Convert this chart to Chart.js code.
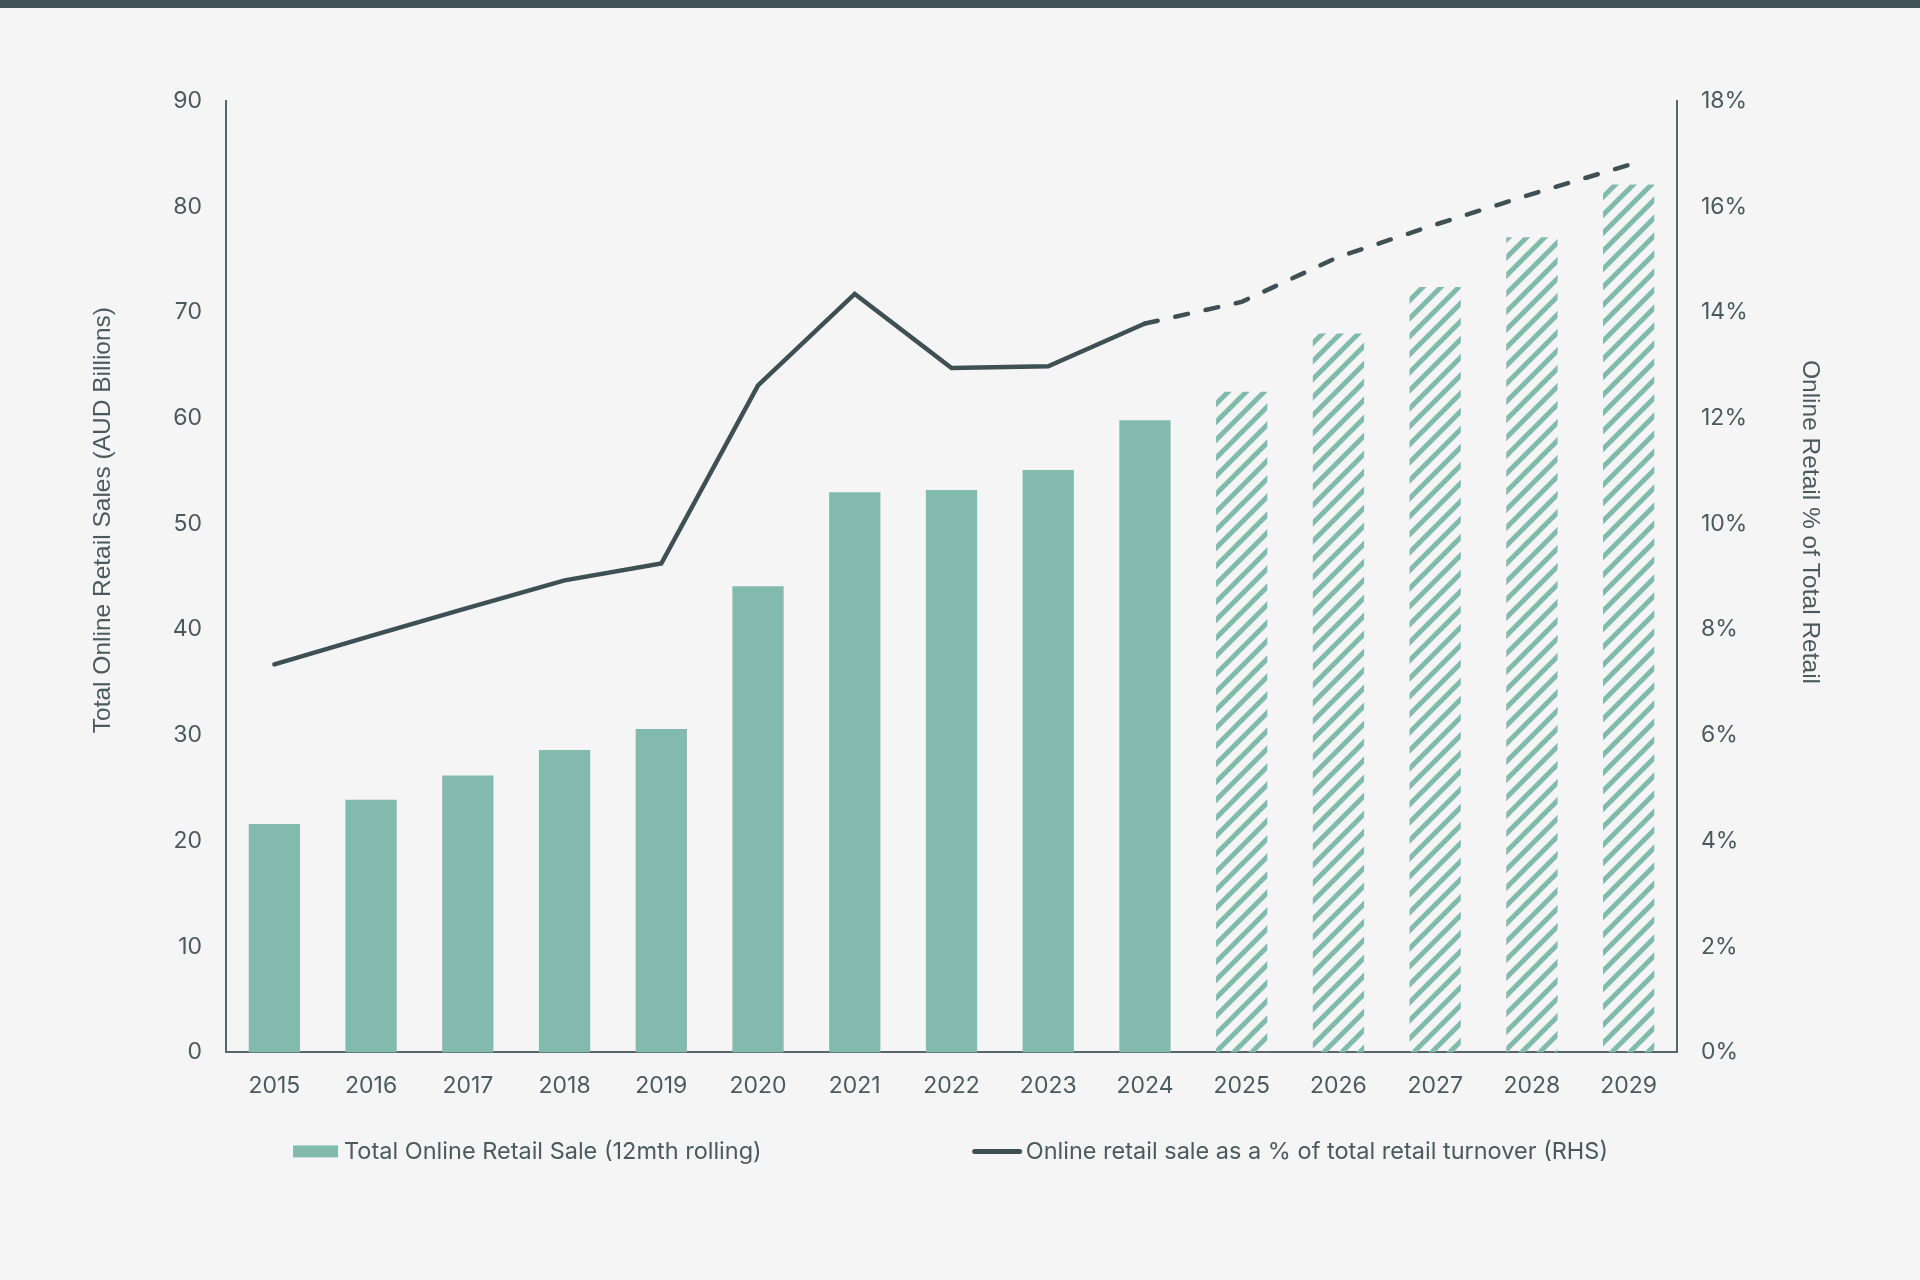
<!DOCTYPE html>
<html>
<head>
<meta charset="utf-8">
<script src="https://cdn.jsdelivr.net/npm/chart.js@4.4.1/dist/chart.umd.min.js"></script>
<style>
html,body{margin:0;padding:0;background:#F5F5F5;}
#wrap{position:relative;width:1920px;height:1280px;overflow:hidden;}
#band{position:absolute;left:0;top:0;width:1920px;height:8px;background:#435257;}
#c{position:absolute;left:0;top:0;}
</style>
</head>
<body>
<div id="wrap"><canvas id="c" width="1920" height="1280"></canvas><div id="band"></div></div>
<script>
// ---- data ----
const years = ['2015','2016','2017','2018','2019','2020','2021','2022','2023','2024','2025','2026','2027','2028','2029'];
const salesBillions = [21.6, 23.9, 26.2, 28.6, 30.6, 44.1, 53.0, 53.2, 55.1, 59.8, 62.5, 68.0, 72.4, 77.1, 82.1];
const onlineSharePct = [7.34, 7.88, 8.41, 8.93, 9.25, 12.62, 14.35, 12.95, 12.98, 13.79, 14.2, 15.05, 15.66, 16.24, 16.79];
const forecastFromYear = '2025';
const leftTicks = [0, 10, 20, 30, 40, 50, 60, 70, 80, 90];
const rightTicks = [0, 2, 4, 6, 8, 10, 12, 14, 16, 18];
const barLabel = 'Total Online Retail Sale (12mth rolling)';
const lineLabel = 'Online retail sale as a % of total retail turnover (RHS)';
const leftTitle = 'Total Online Retail Sales (AUD Billions)';
const rightTitle = 'Online Retail % of Total Retail';

// ---- styles ----
const teal = '#82BBAD';
const lineColor = '#3F5055';
const textColor = '#4A5A5E';
const axisColor = '#56666A';
const tickFont = {family: 'Inter, "Noto Sans", sans-serif', size: 23};
const titleFont = '24.5px "Liberation Sans", Arial, sans-serif';
const legendFont = '23.5px Inter, "Noto Sans", sans-serif';

const forecastIdx = years.indexOf(forecastFromYear);

function hatch(color){
  const s = 18;
  const c = document.createElement('canvas');
  c.width = s; c.height = s;
  const x = c.getContext('2d');
  x.strokeStyle = color; x.lineWidth = 5;
  x.beginPath();
  x.moveTo(-2, s + 2); x.lineTo(s + 2, -2);
  x.moveTo(-s/2 - 2, s/2 + 2); x.lineTo(s/2 + 2, -s/2 - 2);
  x.moveTo(s/2 - 2, s * 1.5 + 2); x.lineTo(s * 1.5 + 2, s/2 - 2);
  x.stroke();
  return x.createPattern(c, 'repeat');
}
const hatchPattern = hatch(teal);

const overlay = {
  id: 'overlay',
  afterDraw(chart){
    const {ctx, chartArea: a} = chart;
    const h = a.bottom - a.top;
    ctx.save();
    ctx.fillStyle = textColor;
    ctx.font = titleFont;
    ctx.textAlign = 'center';
    ctx.textBaseline = 'middle';
    // left title
    ctx.save();
    ctx.translate(a.left - 123, a.top + h * 0.4405);
    ctx.rotate(-Math.PI / 2);
    ctx.fillText(leftTitle, 0, 0);
    ctx.restore();
    // right title
    ctx.save();
    ctx.translate(a.right + 133, a.top + h * 0.4425);
    ctx.rotate(Math.PI / 2);
    ctx.fillText(rightTitle, 0, 0);
    ctx.restore();

    // legend
    ctx.font = legendFont;
    ctx.textAlign = 'left';
    const w1 = ctx.measureText(barLabel).width;
    const w2 = ctx.measureText(lineLabel).width;
    const boxW = 45, lineW = 49, gapBT = 6, gapItems = 211;
    const total = boxW + gapBT + w1 + gapItems + lineW + gapBT + w2;
    let x = (a.left + a.right) / 2 - total / 2;
    const y = a.bottom + 99;
    ctx.fillStyle = teal;
    ctx.fillRect(x, y - 6, boxW, 12);
    x += boxW + gapBT;
    ctx.fillStyle = textColor;
    ctx.fillText(barLabel, x, y + 1);
    x += w1 + gapItems;
    ctx.strokeStyle = lineColor;
    ctx.lineWidth = 5;
    ctx.lineCap = 'round';
    ctx.beginPath();
    ctx.moveTo(x + 2, y); ctx.lineTo(x + lineW - 2, y);
    ctx.stroke();
    x += lineW + gapBT - 2;
    ctx.fillText(lineLabel, x, y + 1);
    ctx.restore();
  }
};

new Chart(document.getElementById('c'), {
  data: {
    labels: years,
    datasets: [
      {
        type: 'bar',
        label: barLabel,
        data: salesBillions,
        yAxisID: 'y',
        backgroundColor: years.map((_, i) => i >= forecastIdx ? hatchPattern : teal),
        borderWidth: 0,
        barPercentage: 0.53,
        categoryPercentage: 1,
        order: 2
      },
      {
        type: 'line',
        label: lineLabel,
        data: onlineSharePct,
        yAxisID: 'y1',
        borderColor: lineColor,
        backgroundColor: lineColor,
        borderWidth: 4.5,
        borderCapStyle: 'round',
        borderJoinStyle: 'miter',
        pointRadius: 0,
        pointHoverRadius: 0,
        tension: 0,
        fill: false,
        order: 1,
        segment: {
          borderDash: ctx => ctx.p0DataIndex >= forecastIdx - 1 ? [13, 18] : undefined
        }
      }
    ]
  },
  options: {
    responsive: false,
    devicePixelRatio: 1,
    animation: false,
    layout: {padding: {left: 60, right: 60, top: 101, bottom: 160}},
    plugins: {
      legend: {display: false},
      tooltip: {enabled: false},
      title: {display: false}
    },
    scales: {
      x: {
        offset: true,
        grid: {display: false, drawTicks: false},
        border: {display: true, color: axisColor, width: 2},
        ticks: {color: textColor, font: tickFont, padding: 20, maxRotation: 0, autoSkip: false}
      },
      y: {
        position: 'left',
        min: 0, max: 90,
        afterBuildTicks: s => { s.ticks = leftTicks.map(v => ({value: v})); },
        afterFit: s => { s.width = 166; },
        grid: {display: false, drawTicks: false},
        border: {display: true, color: axisColor, width: 2},
        ticks: {color: textColor, font: tickFont, padding: 24}
      },
      y1: {
        position: 'right',
        min: 0, max: 18,
        afterBuildTicks: s => { s.ticks = rightTicks.map(v => ({value: v})); },
        afterFit: s => { s.width = 183; },
        grid: {display: false, drawTicks: false},
        border: {display: true, color: axisColor, width: 2},
        ticks: {color: textColor, font: tickFont, padding: 24, callback: v => v + '%'}
      }
    }
  },
  plugins: [overlay]
});
</script>
</body>
</html>
